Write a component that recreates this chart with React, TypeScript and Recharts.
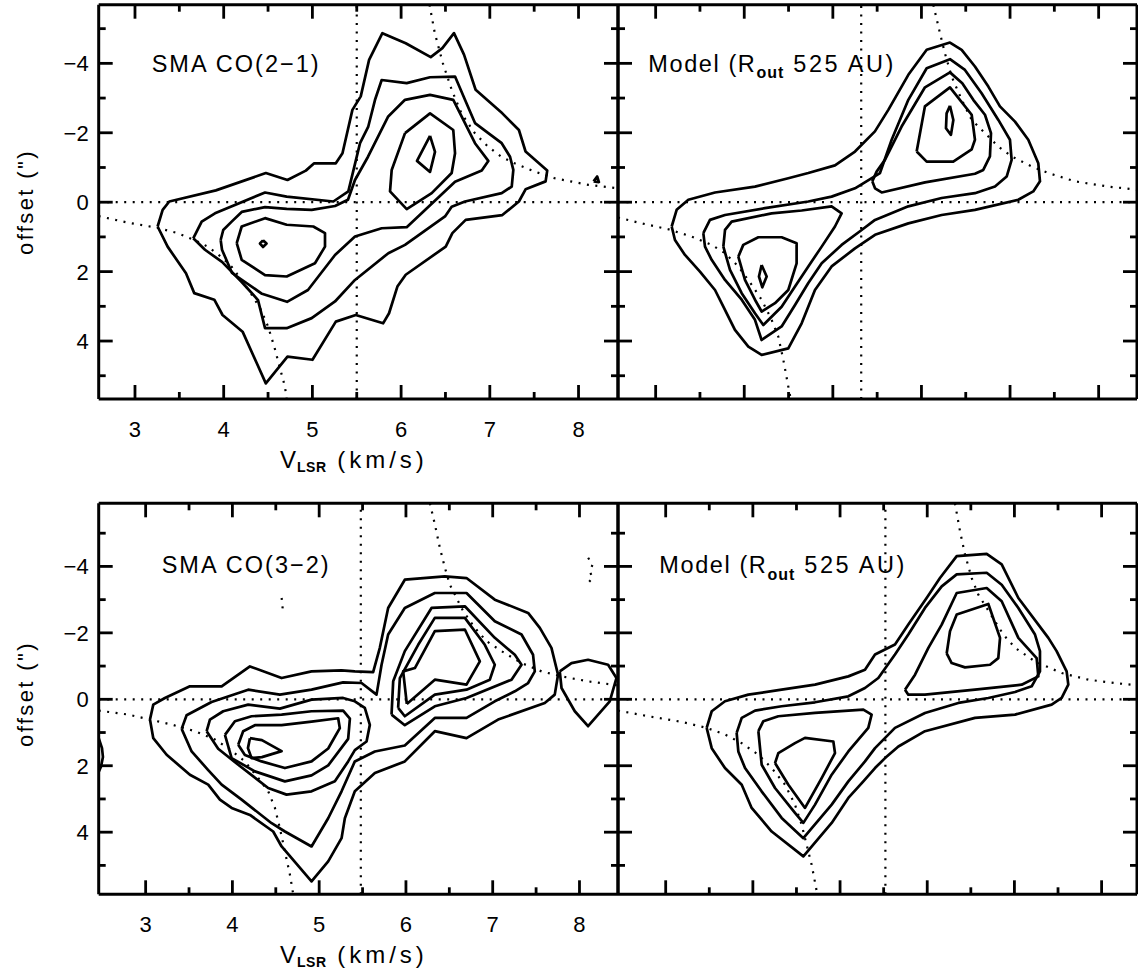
import { ComposedChart, Line, XAxis, YAxis, ReferenceLine } from "recharts";

type Pt = [number, number]; // [velocity km/s, offset arcsec]

// ---------- SMA CO(2-1) ----------
const co21L1: Pt[] = [[3.255,0.70],[3.312,0.22],[3.387,-0.02],[3.912,-0.34],[4.475,-0.84],[4.719,-0.64],[4.926,-0.91],[5.02,-1.12],[5.264,-1.12],[5.339,-1.41],[5.451,-2.66],[5.545,-3.05],[5.639,-4.10],[5.789,-4.87],[6.052,-4.58],[6.334,-4.18],[6.465,-4.44],[6.596,-4.87],[6.709,-4.25],[6.84,-3.24],[7.141,-2.56],[7.328,-2.08],[7.403,-1.46],[7.647,-0.91],[7.629,-0.60],[7.403,-0.37],[7.328,-0.02],[7.141,0.37],[6.728,0.51],[6.578,0.89],[6.503,1.28],[6.052,2.09],[5.958,2.43],[5.864,3.20],[5.797,3.49],[5.489,3.25],[5.264,3.44],[5.001,4.54],[4.719,4.45],[4.475,5.22],[4.213,3.73],[3.987,3.25],[3.894,2.81],[3.668,2.62],[3.575,2.05],[3.368,1.28]];
const co21L2: Pt[] = [[3.657,1.04],[3.752,0.56],[3.902,0.32],[4.466,-0.28],[4.710,-0.16],[5.236,-0.02],[5.405,-0.31],[5.537,-1.70],[5.630,-2.18],[5.706,-2.95],[5.781,-3.52],[6.063,-3.43],[6.326,-3.60],[6.608,-3.62],[6.720,-2.95],[6.833,-2.28],[6.983,-1.99],[7.134,-1.70],[7.228,-1.31],[7.265,-0.93],[7.247,-0.45],[7.134,-0.26],[6.720,-0.02],[6.570,0.13],[6.495,0.41],[6.044,1.23],[5.856,1.47],[5.480,2.24],[5.255,2.86],[4.992,3.34],[4.710,3.63],[4.466,3.63],[4.387,2.82],[4.203,2.30],[3.981,1.72],[3.789,1.37]];
const co21L3: Pt[] = [[3.966,1.09],[3.995,0.80],[4.090,0.56],[4.203,0.28],[4.466,0.14],[4.710,0.19],[4.992,0.22],[5.255,0.11],[5.401,-0.07],[5.480,-0.64],[5.627,-1.31],[5.852,-2.46],[6.044,-2.95],[6.326,-3.09],[6.588,-2.95],[6.720,-2.28],[6.833,-1.70],[6.983,-1.19],[6.909,-0.91],[6.608,-0.59],[6.063,0.72],[5.781,0.75],[5.480,0.99],[5.255,1.52],[4.950,2.53],[4.714,2.87],[4.432,2.64],[4.094,2.04],[3.981,1.37]];
const co21L4a: Pt[] = [[4.147,1.18],[4.203,0.70],[4.466,0.46],[4.710,0.65],[5.010,0.70],[5.142,0.89],[5.142,1.28],[5.029,1.76],[4.710,2.14],[4.466,2.10],[4.203,1.66]];
const co21L5a: Pt[] = [[4.443,1.10],[4.483,1.19],[4.443,1.29],[4.409,1.19]];
const co21L4b: Pt[] = [[6.044,-1.99],[6.326,-2.56],[6.588,-2.08],[6.608,-1.41],[6.570,-0.84],[6.345,-0.26],[6.063,0.20],[5.875,-0.31],[5.894,-0.93]];
const co21L5b: Pt[] = [[6.326,-1.91],[6.382,-1.45],[6.326,-0.87],[6.179,-1.19]];
const co21Speck: Pt[] = [[8.17,-0.60],[8.21,-0.74],[8.23,-0.58]];
const co21KepLow: Pt[] = [[2.59,0.40],[2.92,0.59],[3.24,0.73],[3.48,0.89],[3.67,1.09],[3.82,1.28],[3.97,1.57],[4.09,1.86],[4.20,2.24],[4.33,2.72],[4.42,3.10],[4.50,3.58],[4.57,4.16],[4.63,4.74],[4.69,5.31],[4.71,5.67]];
const co21KepHigh: Pt[] = [[6.32,-5.69],[6.38,-4.87],[6.47,-4.01],[6.57,-3.24],[6.68,-2.56],[6.83,-1.99],[6.98,-1.60],[7.13,-1.31],[7.28,-1.12],[7.51,-0.88],[7.73,-0.69],[8.11,-0.50],[8.445,-0.40]];

// ---------- Model, top ----------
const mod21L1: Pt[] = [[3.181,0.70],[3.237,0.22],[3.369,-0.07],[3.670,-0.28],[4.121,-0.45],[4.497,-0.69],[4.723,-0.84],[5.024,-1.06],[5.250,-1.46],[5.475,-2.04],[5.626,-2.66],[5.852,-3.67],[6.059,-4.39],[6.322,-4.60],[6.454,-4.39],[6.604,-3.91],[6.755,-3.33],[6.886,-2.76],[7.056,-2.32],[7.206,-1.80],[7.319,-1.12],[7.338,-0.60],[7.262,-0.31],[7.093,-0.07],[6.604,0.22],[6.228,0.37],[5.852,0.61],[5.476,0.94],[5.250,1.33],[4.986,1.85],[4.798,2.53],[4.648,3.49],[4.497,4.21],[4.196,4.40],[4.046,4.16],[3.895,3.68],[3.764,3.01],[3.670,2.53],[3.500,2.00],[3.331,1.52],[3.218,1.09]];
const mod21L2: Pt[] = [[3.538,0.89],[3.613,0.51],[3.783,0.37],[4.234,0.17],[4.723,-0.02],[4.986,-0.16],[5.250,-0.40],[5.532,-0.84],[5.664,-1.80],[5.852,-2.95],[6.059,-3.86],[6.322,-4.12],[6.491,-3.81],[6.679,-3.14],[6.868,-2.37],[6.999,-1.80],[7.018,-1.22],[6.962,-0.74],[6.830,-0.45],[6.604,-0.26],[6.228,-0.12],[5.852,0.12],[5.476,0.51],[5.325,0.80],[5.099,1.23],[4.874,1.76],[4.723,2.33],[4.573,2.96],[4.422,3.58],[4.196,3.97],[4.121,3.39],[3.971,2.81],[3.783,2.24],[3.632,1.66],[3.557,1.28]];
const mod21L3a: Pt[] = [[3.764,1.28],[3.783,0.80],[3.858,0.56],[4.309,0.32],[4.648,0.24],[4.986,0.12],[5.099,0.32],[5.024,0.70],[4.874,1.28],[4.723,1.85],[4.573,2.43],[4.422,3.01],[4.215,3.54],[4.121,3.20],[3.971,2.62],[3.839,1.95]];
const mod21L4a: Pt[] = [[3.933,1.57],[3.989,1.23],[4.159,1.01],[4.422,1.01],[4.591,1.18],[4.591,1.76],[4.497,2.53],[4.347,2.91],[4.196,3.15],[4.121,2.81],[4.008,2.24]];
const mod21L5a: Pt[] = [[4.196,1.81],[4.253,2.14],[4.204,2.45],[4.166,2.14]];
const mod21L3b: Pt[] = [[5.445,-0.60],[5.494,-0.88],[5.588,-1.22],[5.776,-2.18],[6.040,-3.31],[6.322,-3.74],[6.461,-3.43],[6.585,-2.95],[6.717,-2.52],[6.785,-1.99],[6.773,-1.32],[6.698,-0.93],[6.604,-0.82],[6.040,-0.57],[5.551,-0.28],[5.476,-0.40]];
const mod21L4b: Pt[] = [[5.946,-1.46],[6.039,-2.76],[6.322,-3.31],[6.567,-2.52],[6.604,-1.80],[6.567,-1.52],[6.359,-1.17],[6.059,-1.17]];
const mod21L5b: Pt[] = [[6.322,-2.78],[6.360,-2.37],[6.333,-1.94],[6.277,-2.13],[6.284,-2.56]];
const mod21KepLow: Pt[] = [[2.575,0.44],[2.842,0.61],[3.143,0.78],[3.406,0.99],[3.632,1.23],[3.783,1.47],[3.933,1.85],[4.084,2.38],[4.196,2.81],[4.309,3.39],[4.384,3.87],[4.441,4.54],[4.497,5.31],[4.524,5.67]];
const mod21KepHigh: Pt[] = [[6.134,-5.69],[6.209,-4.87],[6.265,-4.29],[6.341,-3.62],[6.454,-2.95],[6.567,-2.37],[6.717,-1.99],[6.868,-1.60],[7.018,-1.32],[7.244,-1.03],[7.432,-0.84],[7.733,-0.60],[8.109,-0.45],[8.433,-0.36]];

// ---------- SMA CO(3-2) ----------
const co32L1: Pt[] = [[3.050,0.61],[3.088,0.16],[3.222,-0.04],[3.510,-0.39],[3.876,-0.39],[4.202,-0.99],[4.567,-0.64],[4.912,-0.84],[5.258,-0.87],[5.411,-0.84],[5.622,-0.82],[5.699,-1.55],[5.795,-2.75],[5.987,-3.60],[6.448,-3.70],[6.698,-3.65],[7.024,-3.00],[7.408,-2.60],[7.543,-2.15],[7.677,-1.55],[7.753,-0.74],[7.715,-0.14],[7.600,0.11],[7.062,0.61],[6.698,1.17],[6.333,0.96],[5.987,1.87],[5.642,2.22],[5.411,2.77],[5.296,3.58],[5.258,4.18],[5.104,4.88],[4.912,5.48],[4.567,4.43],[4.470,3.98],[4.202,3.48],[3.991,3.27],[3.856,3.02],[3.721,2.57],[3.510,2.27],[3.242,1.67],[3.088,1.17]];
const co32L2: Pt[] = [[3.415,0.89],[3.472,0.48],[3.760,0.08],[4.182,-0.29],[4.547,-0.14],[4.912,-0.29],[5.276,-0.51],[5.488,-0.49],[5.661,-0.14],[5.719,-1.04],[5.795,-1.95],[5.987,-2.75],[6.333,-3.20],[6.698,-3.20],[7.024,-2.35],[7.332,-1.95],[7.465,-1.34],[7.485,-0.84],[7.408,-0.49],[7.255,-0.24],[7.024,0.06],[6.698,0.56],[6.333,0.56],[5.987,1.39],[5.642,1.57],[5.411,1.87],[5.258,2.77],[5.104,3.58],[4.912,4.43],[4.605,3.98],[4.452,3.73],[4.106,3.02],[3.876,2.57],[3.721,2.13],[3.530,1.57]];
const co32L3a: Pt[] = [[3.703,0.96],[3.741,0.61],[3.894,0.36],[4.182,0.16],[4.547,0.28],[4.912,0.01],[5.276,-0.04],[5.411,0.06],[5.526,0.26],[5.584,0.77],[5.546,1.27],[5.411,1.53],[5.334,1.87],[5.181,2.47],[4.912,2.77],[4.624,2.87],[4.412,2.67],[4.067,1.97],[3.836,1.49]];
const co32L4a: Pt[] = [[3.914,1.07],[4.029,0.66],[4.221,0.51],[4.567,0.46],[4.912,0.36],[5.276,0.34],[5.354,0.58],[5.334,1.19],[5.104,1.99],[4.912,2.29],[4.605,2.47],[4.259,2.17],[3.991,1.77]];
const co32L5a: Pt[] = [[4.067,1.37],[4.124,0.96],[4.259,0.78],[4.567,0.78],[4.912,0.67],[5.219,0.57],[5.238,0.87],[5.104,1.48],[4.912,1.87],[4.605,2.07],[4.336,1.87],[4.144,1.68]];
const co32L6a: Pt[] = [[4.202,1.17],[4.340,1.23],[4.567,1.56],[4.340,1.74],[4.221,1.77],[4.179,1.47]];
const co32L3b: Pt[] = [[5.834,0.46],[5.853,-0.54],[5.987,-1.45],[6.295,-2.75],[6.679,-2.80],[7.024,-1.85],[7.255,-1.34],[7.332,-1.04],[7.217,-0.59],[6.698,-0.04],[6.333,0.21],[5.987,0.78]];
const co32L4b: Pt[] = [[5.910,0.26],[5.930,-0.64],[6.141,-1.64],[6.333,-2.45],[6.679,-2.45],[6.909,-1.64],[7.024,-1.04],[6.967,-0.59],[6.698,-0.29],[6.333,-0.14],[5.987,0.51]];
const co32L5b: Pt[] = [[6.010,0.14],[5.968,-0.84],[6.103,-0.94],[6.333,-2.05],[6.679,-2.10],[6.852,-1.14],[6.698,-0.44],[6.333,-0.59]];
const co32Blob: Pt[] = [[7.773,-0.84],[7.908,-1.09],[8.099,-1.19],[8.330,-1.04],[8.426,-0.64],[8.349,0.06],[8.099,0.81],[7.946,0.36],[7.793,-0.34]];
const co32Edge: Pt[] = [[2.459,1.17],[2.497,1.47],[2.508,1.74],[2.485,2.03],[2.459,2.19]];
const co32NegA: Pt[] = [[4.567,-3.05],[4.58,-2.80],[4.567,-2.55]];
const co32NegB: Pt[] = [[8.10,-4.26],[8.15,-4.05],[8.12,-3.85],[8.15,-3.65],[8.10,-3.50]];
const co32KepLow: Pt[] = [[2.459,0.34],[2.800,0.46],[3.050,0.61],[3.299,0.76],[3.568,0.96],[3.798,1.21],[3.952,1.47],[4.144,1.87],[4.298,2.37],[4.413,2.77],[4.490,3.27],[4.547,3.88],[4.605,4.58],[4.663,5.28],[4.701,5.87]];
const co32KepHigh: Pt[] = [[6.276,-5.90],[6.334,-5.26],[6.391,-4.56],[6.449,-3.96],[6.506,-3.45],[6.583,-3.05],[6.660,-2.65],[6.794,-2.15],[6.929,-1.75],[7.102,-1.45],[7.332,-1.09],[7.563,-0.84],[7.793,-0.69],[8.100,-0.54],[8.444,-0.42]];

// ---------- Model, bottom ----------
const mod32L1: Pt[] = [[3.470,0.86],[3.528,0.36],[3.680,0.06],[3.948,-0.14],[4.330,-0.29],[4.713,-0.44],[5.095,-0.69],[5.286,-0.89],[5.401,-1.35],[5.630,-1.65],[5.783,-2.25],[5.993,-3.05],[6.146,-3.65],[6.338,-4.31],[6.682,-4.38],[6.854,-4.06],[7.045,-3.05],[7.389,-1.85],[7.484,-1.45],[7.599,-0.84],[7.618,-0.44],[7.542,-0.04],[7.427,0.16],[7.007,0.46],[6.548,0.56],[5.974,0.96],[5.669,1.42],[5.516,1.77],[5.401,2.07],[5.267,2.47],[5.095,2.97],[4.904,3.72],[4.579,4.73],[4.216,3.98],[3.986,3.27],[3.872,2.57],[3.680,2.07],[3.528,1.47]];
const mod32L2: Pt[] = [[3.814,1.01],[3.872,0.56],[4.025,0.34],[4.330,0.21],[4.713,0.09],[5.095,-0.09],[5.286,-0.34],[5.439,-0.64],[5.630,-1.35],[5.783,-1.95],[5.974,-2.75],[6.166,-3.40],[6.338,-3.76],[6.682,-3.81],[6.854,-3.45],[7.045,-2.75],[7.236,-1.95],[7.293,-1.45],[7.293,-0.84],[7.198,-0.39],[7.007,-0.22],[6.701,-0.04],[6.357,0.11],[5.974,0.41],[5.630,0.86],[5.401,1.47],[5.286,1.87],[5.095,2.47],[4.904,3.17],[4.579,4.18],[4.330,3.57],[4.100,2.77],[3.910,2.07],[3.833,1.57]];
const mod32L3a: Pt[] = [[4.063,0.96],[4.120,0.66],[4.292,0.51],[4.713,0.41],[5.267,0.31],[5.362,0.46],[5.324,0.86],[5.095,1.57],[4.904,2.27],[4.713,3.17],[4.579,3.72],[4.483,3.42],[4.254,2.67],[4.101,1.97]];
const mod32L4a: Pt[] = [[4.254,1.92],[4.292,1.62],[4.483,1.32],[4.598,1.16],[4.923,1.27],[4.942,1.62],[4.789,2.37],[4.598,3.27],[4.407,2.57]];
const mod32L3b: Pt[] = [[5.745,-0.29],[5.860,-0.74],[6.013,-1.55],[6.166,-2.25],[6.338,-3.20],[6.682,-3.35],[6.854,-2.95],[7.045,-1.85],[7.255,-1.24],[7.274,-0.69],[7.083,-0.44],[6.548,-0.29],[5.974,-0.14],[5.783,-0.14]];
const mod32L4b: Pt[] = [[6.223,-1.38],[6.261,-2.05],[6.338,-2.55],[6.701,-2.87],[6.835,-1.85],[6.815,-1.24],[6.720,-1.04],[6.433,-0.96],[6.280,-1.09]];
const mod32KepLow: Pt[] = [[2.453,0.34],[2.801,0.51],[3.184,0.68],[3.470,0.86],[3.680,1.06],[3.872,1.32],[4.063,1.67],[4.216,2.07],[4.369,2.57],[4.483,3.17],[4.560,3.78],[4.617,4.38],[4.674,4.98],[4.739,5.87]];
const mod32KepHigh: Pt[] = [[6.318,-5.90],[6.376,-5.06],[6.433,-4.36],[6.510,-3.65],[6.586,-3.15],[6.682,-2.75],[6.777,-2.35],[6.873,-1.95],[7.007,-1.55],[7.236,-1.14],[7.542,-0.79],[7.848,-0.59],[8.153,-0.49],[8.406,-0.42]];

const velTicks = [3, 3.5, 4, 4.5, 5, 5.5, 6, 6.5, 7, 7.5, 8];
const offTicks = [-5, -4, -3, -2, -1, 0, 1, 2, 3, 4, 5];

const FONT = "'Liberation Sans', Arial, Helvetica, sans-serif";
const INK = "#000";

const rows = (pts: Pt[], closed: boolean) =>
  (closed ? [...pts, pts[0]] : pts).map(([v, o]) => ({ v, o }));

type Side = "top" | "bottom" | "left" | "right";

const fmtOff = (n: number) => (n < 0 ? `\u2212${-n}` : `${n}`);

// ticks point inward, labels sit outside the frame
function tickFor(side: Side, labelled: boolean) {
  return (props: any) => {
    const { x, y, payload } = props;
    const val: number = payload.value;
    const horiz = side === "top" || side === "bottom";
    const major = horiz ? Number.isInteger(val) : Math.abs(val) % 2 === 0;
    const len = major ? 14 : 7;
    const dx = side === "left" ? len : side === "right" ? -len : 0;
    const dy = side === "top" ? len : side === "bottom" ? -len : 0;
    return (
      <g>
        <line x1={x} y1={y} x2={x + dx} y2={y + dy} stroke={INK} strokeWidth={2.8} />
        {labelled && major && side === "bottom" && (
          <text x={x} y={y + 38} textAnchor="middle" fontFamily={FONT} fontSize={22} fill={INK}>
            {val}
          </text>
        )}
        {labelled && major && side === "left" && (
          <text x={x - 10} y={y + 8} textAnchor="end" fontFamily={FONT} fontSize={22} fill={INK}>
            {fmtOff(val)}
          </text>
        )}
      </g>
    );
  };
}

interface Curve { pts: Pt[]; closed: boolean }

interface PanelProps {
  left: number;
  top: number;
  width: number;
  height: number;
  margin: { top: number; right: number; bottom: number; left: number };
  xDomain: [number, number];
  yDomain: [number, number];
  solid: Curve[];
  dotted: Pt[][];
  vsys: number;
  labelled: boolean;
}

function Panel({ left, top, width, height, margin, xDomain, yDomain, solid, dotted, vsys, labelled }: PanelProps) {
  const axisLine = { stroke: INK, strokeWidth: 3 };
  return (
    <div style={{ position: "absolute", left, top }}>
      <ComposedChart width={width} height={height} margin={margin}>
        <XAxis xAxisId="b" orientation="bottom" type="number" dataKey="v" domain={xDomain} allowDataOverflow
          ticks={velTicks} interval={0} height={1} tickSize={0} tickMargin={0} tickLine={false}
          axisLine={axisLine} tick={tickFor("bottom", labelled)} />
        <XAxis xAxisId="t" orientation="top" type="number" dataKey="v" domain={xDomain} allowDataOverflow
          ticks={velTicks} interval={0} height={1} tickSize={0} tickMargin={0} tickLine={false}
          axisLine={axisLine} tick={tickFor("top", false)} />
        <YAxis yAxisId="l" orientation="left" type="number" domain={yDomain} reversed allowDataOverflow
          ticks={offTicks} interval={0} width={1} tickSize={0} tickMargin={0} tickLine={false}
          axisLine={axisLine} tick={tickFor("left", labelled)} />
        <YAxis yAxisId="r" orientation="right" type="number" domain={yDomain} reversed allowDataOverflow
          ticks={offTicks} interval={0} width={1} tickSize={0} tickMargin={0} tickLine={false}
          axisLine={axisLine} tick={tickFor("right", false)} />
        <ReferenceLine xAxisId="b" yAxisId="l" y={0} stroke={INK} strokeWidth={2.2} strokeDasharray="2 6.5" />
        <ReferenceLine xAxisId="b" yAxisId="l" x={vsys} stroke={INK} strokeWidth={2.2} strokeDasharray="2 6.5" />
        {dotted.map((pts, i) => (
          <Line key={`d${i}`} xAxisId="b" yAxisId="l" data={rows(pts, false)} dataKey="o" type="linear"
            dot={false} activeDot={false} stroke={INK} strokeWidth={2.2} strokeDasharray="2 6.5"
            isAnimationActive={false} />
        ))}
        {solid.map((c, i) => (
          <Line key={`s${i}`} xAxisId="b" yAxisId="l" data={rows(c.pts, c.closed)} dataKey="o" type="linear"
            dot={false} activeDot={false} stroke={INK} strokeWidth={2.7} strokeLinejoin="round"
            isAnimationActive={false} />
        ))}
      </ComposedChart>
    </div>
  );
}

const loop = (pts: Pt[]): Curve => ({ pts, closed: true });
const open = (pts: Pt[]): Curve => ({ pts, closed: false });

// plot frames: top row y 4.7..399, bottom row y 503.3..894.3; columns x 98.7..618, 618..1137
const topMargin = (l: number, r: number) => ({ top: 3.7, left: l, right: r, bottom: 90 });
const botMargin = (l: number, r: number) => ({ top: 12.3, left: l, right: r, bottom: 78.7 });

const txt = { fontFamily: FONT, fill: INK } as const;

function ModelTitle({ x, y }: { x: number; y: number }) {
  return (
    <text x={x} y={y} fontSize={23.5} letterSpacing={1.6} {...txt}>
      Model (R
      <tspan fontSize={16} fontWeight="bold" dy={6.6} letterSpacing={1}>out</tspan>
      <tspan dy={-6.6} letterSpacing={2.5}>{"\u00a0525 AU)"}</tspan>
    </text>
  );
}

function VelTitle({ x, y }: { x: number; y: number }) {
  return (
    <text x={x} y={y} fontSize={24} letterSpacing={1} {...txt}>
      V
      <tspan fontSize={14} fontWeight="bold" dy={4} letterSpacing={0.5}>LSR</tspan>
      <tspan dy={-4} letterSpacing={4}>{"\u00a0(km/s)"}</tspan>
    </text>
  );
}

export default function App() {
  return (
    <div style={{ position: "absolute", left: 0, top: 0, width: 1138, height: 974, background: "#fff", overflow: "hidden" }}>
      <Panel left={0} top={0} width={640} height={490} margin={topMargin(97.7, 21)}
        xDomain={[2.591, 8.445]} yDomain={[-5.69, 5.67]} vsys={5.5} labelled
        solid={[loop(co21L1), loop(co21L2), loop(co21L3), loop(co21L4a), loop(co21L5a), loop(co21L4b), loop(co21L5b), loop(co21Speck)]}
        dotted={[co21KepLow, co21KepHigh]} />
      <Panel left={600} top={0} width={538} height={490} margin={topMargin(17, 0)}
        xDomain={[2.575, 8.433]} yDomain={[-5.69, 5.67]} vsys={5.32} labelled={false}
        solid={[loop(mod21L1), loop(mod21L2), loop(mod21L3a), loop(mod21L4a), loop(mod21L5a), loop(mod21L3b), loop(mod21L4b), loop(mod21L5b)]}
        dotted={[mod21KepLow, mod21KepHigh]} />
      <Panel left={0} top={490} width={640} height={484} margin={botMargin(97.7, 21)}
        xDomain={[2.459, 8.444]} yDomain={[-5.9, 5.87]} vsys={5.48} labelled
        solid={[loop(co32L1), loop(co32L2), loop(co32L3a), loop(co32L4a), loop(co32L5a), loop(co32L6a), loop(co32L3b), loop(co32L4b), loop(co32L5b), loop(co32Blob), open(co32Edge)]}
        dotted={[co32KepLow, co32KepHigh, co32NegA, co32NegB]} />
      <Panel left={600} top={490} width={538} height={484} margin={botMargin(17, 0)}
        xDomain={[2.453, 8.406]} yDomain={[-5.9, 5.87]} vsys={5.52} labelled={false}
        solid={[loop(mod32L1), loop(mod32L2), loop(mod32L3a), loop(mod32L4a), loop(mod32L3b), loop(mod32L4b)]}
        dotted={[mod32KepLow, mod32KepHigh]} />

      <svg width={1138} height={974} style={{ position: "absolute", left: 0, top: 0, pointerEvents: "none" }}>
        <text x={151.7} y={71.7} fontSize={23.5} letterSpacing={2} {...txt}>SMA CO(2{"\u2212"}1)</text>
        <ModelTitle x={648.3} y={71.7} />
        <text x={161.7} y={573} fontSize={23.5} letterSpacing={2} {...txt}>SMA CO(3{"\u2212"}2)</text>
        <ModelTitle x={659.3} y={573} />

        <VelTitle x={280} y={468} />
        <VelTitle x={280} y={963} />

        <text transform="translate(33,202) rotate(-90)" textAnchor="middle" fontSize={22} letterSpacing={2.4} {...txt}>
          offset (")
        </text>
        <text transform="translate(33,694) rotate(-90)" textAnchor="middle" fontSize={22} letterSpacing={2.4} {...txt}>
          offset (")
        </text>
      </svg>
    </div>
  );
}
